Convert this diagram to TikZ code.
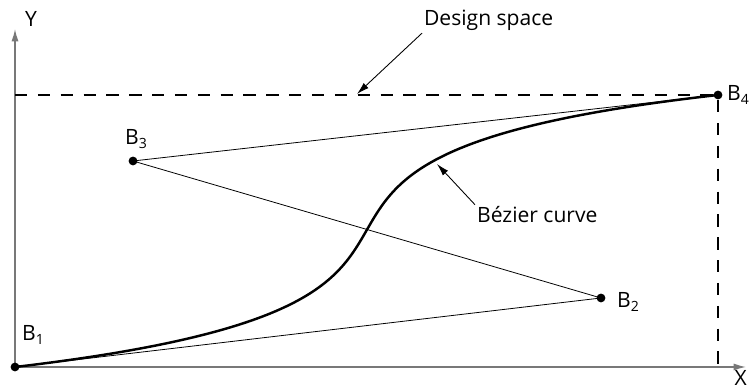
\documentclass[tikz,border=0pt]{standalone}
\usepackage{fontspec}
\setmainfont{Open Sans}
\usetikzlibrary{arrows.meta, positioning}
\definecolor{axisgray}{RGB}{120,120,120}

\begin{document}
\begin{tikzpicture}[
    font=\fontsize{12}{14}\selectfont,
    axis/.style={draw=axisgray, line width=0.8pt, -{Latex[length=7pt, width=4pt]}},
    polygon/.style={draw=black, line width=0.45pt},
    bound/.style={draw=black, line width=0.6pt, dash pattern=on 7pt off 6pt},
    pointer/.style={draw=black, line width=0.5pt, -{Latex[length=7pt, width=4pt]}},
    ctrl/.style={circle, fill=black, inner sep=0pt, minimum size=5pt},
    lbl/.style={inner sep=1pt}
]
    \useasboundingbox (0,0) rectangle (15,7.8);

    \coordinate (p1) at (0.3,0.46);
    \coordinate (p2) at (12.02,1.84);
    \coordinate (p3) at (2.66,4.58);
    \coordinate (p4) at (14.36,5.9);
    \coordinate (ytop) at (0.3,7.22);
    \coordinate (xend) at (14.92,0.46);
    \coordinate (ycorner) at (0.3,5.9);
    \coordinate (xcorner) at (14.36,0.46);

    % axes
    \draw[axis] (p1) -- (ytop);
    \draw[axis] (p1) -- (xend);
    \node[lbl, anchor=base west] (ylabel) at (0.46,7.26) {Y};
    \node[lbl, anchor=south east] (xlabel) at (14.98,0.04) {X};

    % design space
    \draw[bound] (ycorner) -- (p4) -- (xcorner);

    % control polygon and curve
    \draw[polygon] (p1) -- (p2) -- (p3) -- (p4);
    \draw[line width=1.4pt] (p1) .. controls (p2) and (p3) .. (p4);

    \node[ctrl] (b1) at (p1) {};
    \node[ctrl] (b2) at (p2) {};
    \node[ctrl] (b3) at (p3) {};
    \node[ctrl] (b4) at (p4) {};
    \node[lbl, anchor=base west] (b1label) at (0.4,0.98) {B\textsubscript{1}};
    \node[lbl, anchor=base west] (b2label) at (12.3,1.64) {B\textsubscript{2}};
    \node[lbl, anchor=base west] (b3label) at (2.46,4.9) {B\textsubscript{3}};
    \node[lbl, anchor=base west] (b4label) at (14.5,5.78) {B\textsubscript{4}};

    % annotations
    \node[lbl, anchor=base west] (spacelabel) at (8.44,7.28) {Design space};
    \coordinate (spacetip) at (7.14,5.92);
    \draw[pointer] (spacelabel.south west) -- (spacetip);

    \node[lbl, anchor=base west] (curvelabel) at (9.5,3.34) {Bézier curve};
    \coordinate (curvetip) at (8.74,4.52);
    \draw[pointer] (curvelabel.north west) -- (curvetip);
\end{tikzpicture}
\end{document}
